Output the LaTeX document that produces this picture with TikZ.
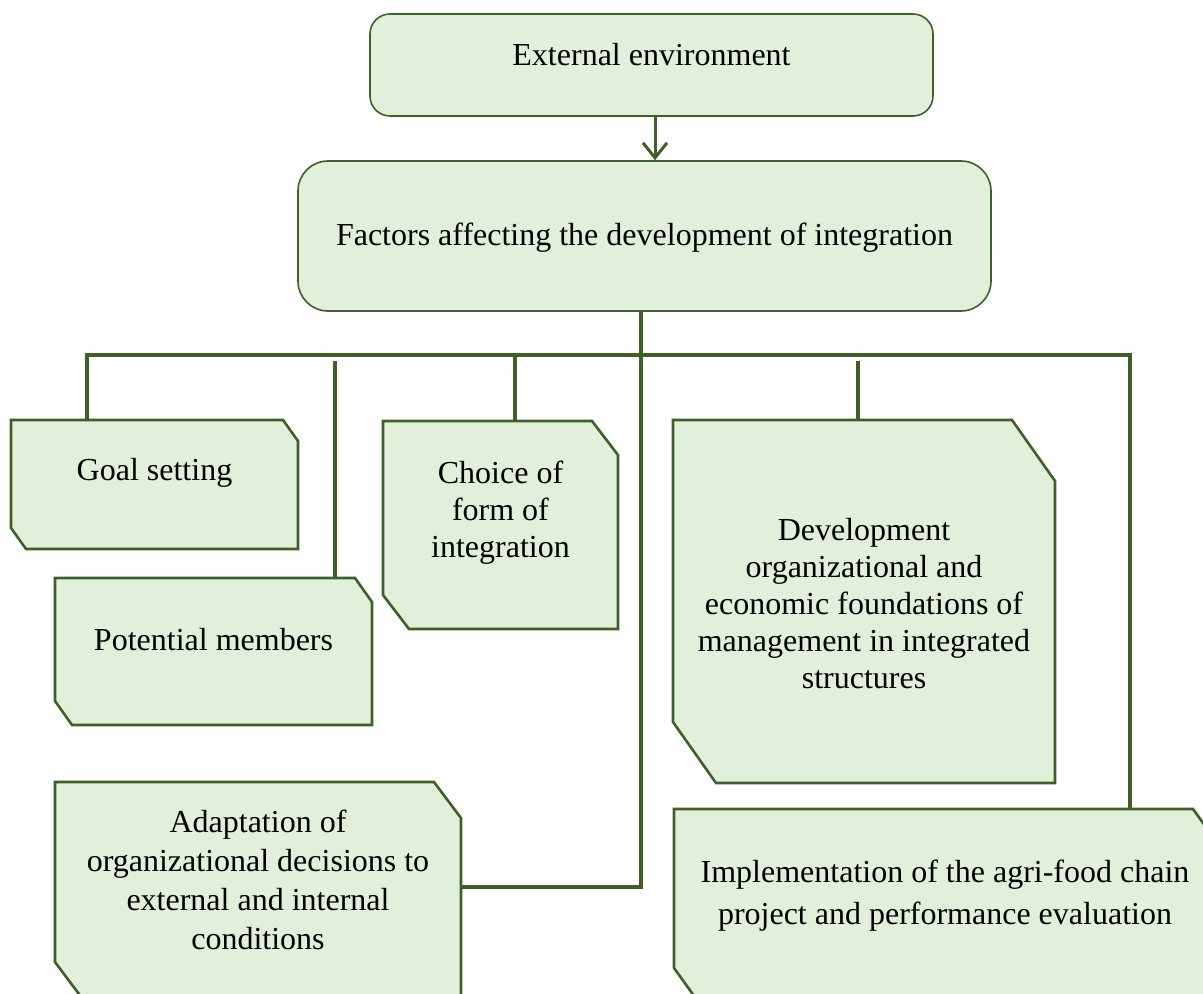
\documentclass[tikz,border=0pt]{standalone}
\usepackage{fontspec}
\setmainfont{Liberation Serif}
\usetikzlibrary{arrows.meta}
\definecolor{boxfill}{HTML}{E2EFDA}
\definecolor{edge}{HTML}{3F5F28}
\tikzset{
  roundbox/.style={draw=edge, line width=1.6pt, fill=boxfill, inner sep=0pt},
  cutframe/.style={draw=edge, line width=2.6pt, fill=boxfill, line join=miter},
  holder/.style={draw=none, inner sep=0pt, outer sep=0pt},
  txt/.style={font=\fontsize{32}{37}\selectfont, align=center, inner sep=0pt},
  link/.style={draw=edge, line width=3.6pt},
}
% box with snipped top-right and bottom-left corners:
% name, left, top, right, bottom, cut dx, cut dy
\newcommand\cutbox[7]{%
  \path[cutframe] (#2,#3) -- (#4-#6,#3) -- (#4,#3+#7) -- (#4,#5) -- (#2+#6,#5) -- (#2,#5-#7) -- cycle;
  \node[holder, minimum width={#4-#2}, minimum height={#5-#3}] (#1) at ({(#2+#4)/2},{(#3+#5)/2}) {};
}
\begin{document}
\begin{tikzpicture}[x=1pt,y=-1pt]
\useasboundingbox (0,0) rectangle (1203,994);
\clip (0,0) rectangle (1203,994);

% top boxes
\node[roundbox, rounded corners=20pt, minimum width=563pt, minimum height=102pt] (ext) at (651.5,65) {};
\node[txt] (ext-t) at (651.5,55) {External environment};
\node[roundbox, rounded corners=30pt, minimum width=693pt, minimum height=150pt] (fac) at (644.5,236) {};
\node[txt] (fac-t) at (644.5,238) {Factors affecting the development of integration};

% stages
\cutbox{goal}{11}{420}{298}{549}{15}{21}
\cutbox{memb}{55}{578}{372}{725}{17}{24}
\cutbox{form}{383}{421}{618}{629}{26}{34}
\cutbox{devt}{673}{420}{1055}{783}{43}{61}
\cutbox{adapt}{55}{782}{461}{998}{27}{36}
\cutbox{impl}{674}{809}{1216}{1000}{23}{32}

\node[txt] (goal-t) at (154.5,473) {Goal setting};
\node[txt] (memb-t) at (213.5,640) {Potential members};
\node[txt] (form-t) at (500.5,513) {Choice of\\form of\\integration};
\node[txt] (devt-t) at (864,604) {Development\\organizational and\\economic foundations of\\management in integrated\\structures};
\node[txt, font=\fontsize{32}{39}\selectfont] (adapt-t) at (258,880) {Adaptation of\\organizational decisions to\\external and internal\\conditions};
\node[txt, font=\fontsize{32}{42}\selectfont] (impl-t) at (945,896) {Implementation of the agri-food chain\\project and performance evaluation};

% connectors
\coordinate (b1) at (87,355);
\coordinate (b2) at (335,361);
\coordinate (b3) at (515,355);
\coordinate (b4) at (641,355);
\coordinate (b5) at (858,361);
\coordinate (b6) at (1130,355);
\coordinate (elbow) at (641,887);
\coordinate (arr) at (655,0);

\draw[link] (goal.north -| b1) -- (b1) -- (b6) -- (b6 |- impl.north);
\draw[link] (b2) -- (b2 |- memb.north);
\draw[link] (b3) -- (b3 |- form.north);
\draw[link] (b5) -- (b5 |- devt.north);
\draw[link] (fac.south -| b4) -- (elbow) -- (elbow -| adapt.east);
\draw[link, line width=3pt, -{Straight Barb[length=15pt,width=24pt]}] (ext.south -| arr) -- (fac.north -| arr);
\end{tikzpicture}
\end{document}
